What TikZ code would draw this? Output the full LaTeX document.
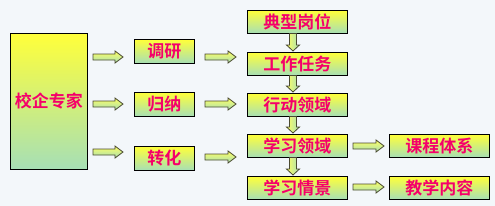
\documentclass[tikz,border=0pt]{standalone}
\usepackage{fontspec}
\newfontfamily\cjk{Noto Sans CJK SC}[BoldFont={Noto Sans CJK SC Bold}]
\definecolor{bg}{HTML}{F3F7FA}
\definecolor{boxtop}{HTML}{FFFF3A}
\definecolor{boxbot}{HTML}{A6DFB6}
\definecolor{txt}{HTML}{F5006A}
\definecolor{arrline}{HTML}{4A4A30}
\tikzset{
  box/.style={draw=black, line width=0.9pt, top color=boxtop, bottom color=boxbot,
    font=\cjk\bfseries\fontsize{17}{19}\selectfont, text=txt, inner sep=0pt, anchor=north west},
  blockarrow/.style={draw=arrline, line width=0.8pt, line join=miter},
  harrowfill/.style={blockarrow, top color=boxtop!80!white, bottom color=boxbot},
  varrowfill/.style={blockarrow, left color=boxtop!80!white, right color=boxbot},
}
\newcommand\harrow[3]{% x1, x2, y
  \path[harrowfill] ({#1},{#3-3}) -- ({#2-8},{#3-3}) -- ({#2-8},{#3-6}) -- ({#2},{#3})
    -- ({#2-8},{#3+6}) -- ({#2-8},{#3+3}) -- ({#1},{#3+3}) -- cycle;}
\newcommand\varrow[3]{% x, y1, y2
  \path[varrowfill] ({#1-3.5},{#2}) -- ({#1-3.5},{#3-6}) -- ({#1-6.5},{#3-6}) -- ({#1},{#3})
    -- ({#1+6.5},{#3-6}) -- ({#1+3.5},{#3-6}) -- ({#1+3.5},{#2}) -- cycle;}
\begin{document}
\begin{tikzpicture}[x=1pt,y=-1pt]
\fill[bg] (0,0) rectangle (495,206);
\useasboundingbox (0,0) rectangle (495,206);
% left
\node[box, minimum width=77pt, minimum height=136pt] (expert) at (10,33) {校企专家};
% middle
\node[box, minimum width=60pt, minimum height=24pt] (diaoyan) at (134,39) {调研};
\node[box, minimum width=60pt, minimum height=24pt] (guina) at (134,92) {归纳};
\node[box, minimum width=60pt, minimum height=24pt] (zhuanhua) at (134,146) {转化};
% right column
\node[box, minimum width=100pt, minimum height=23pt] (dianxing) at (247,10) {典型岗位};
\node[box, minimum width=100pt, minimum height=23pt] (gongzuo) at (247,52) {工作任务};
\node[box, minimum width=100pt, minimum height=23pt] (xingdong) at (247,93) {行动领域};
\node[box, minimum width=100pt, minimum height=23pt] (xuexily) at (247,134) {学习领域};
\node[box, minimum width=100pt, minimum height=23pt] (xuexiqj) at (247,176) {学习情景};
% far right
\node[box, minimum width=100pt, minimum height=23pt] (kecheng) at (389,134) {课程体系};
\node[box, minimum width=100pt, minimum height=23pt] (jiaoxue) at (389,176) {教学内容};
% arrows left -> middle
\harrow{93}{123}{57}
\harrow{93}{123}{104}
\harrow{93}{123}{152}
% arrows middle -> right
\harrow{205}{236}{57}
\harrow{205}{236}{104}
\harrow{205}{236}{157}
% down arrows
\varrow{293}{33.5}{51}
\varrow{293}{75.5}{92}
\varrow{293}{116.5}{133}
\varrow{293}{157.5}{175}
% far right arrows
\harrow{353}{384}{146}
\harrow{353}{384}{187}
\end{tikzpicture}
\end{document}
